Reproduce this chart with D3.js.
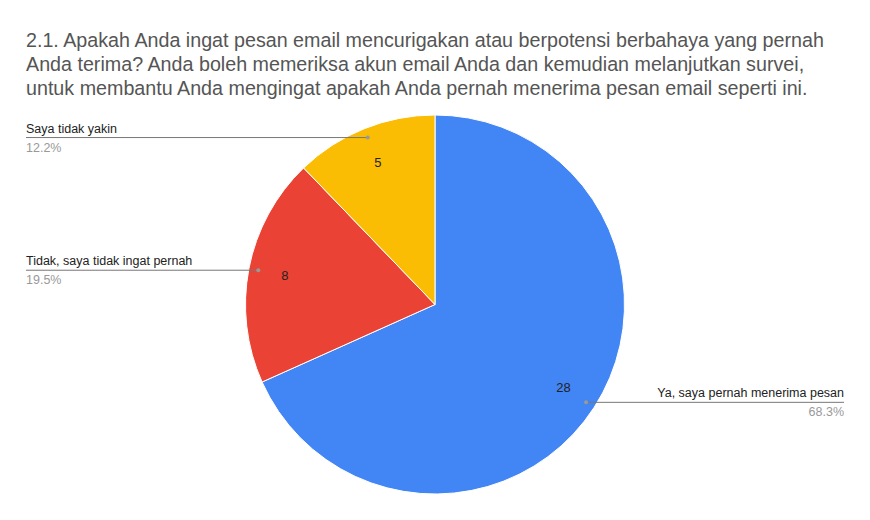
<!DOCTYPE html>
<html><head><meta charset="utf-8">
<script src="https://cdn.jsdelivr.net/npm/d3@7"></script>
<style>body{margin:0;background:#fff}svg{display:block}</style>
</head><body>
<svg id="chart" width="870" height="520"></svg>
<script>
const titleLines = [
  "2.1. Apakah Anda ingat pesan email mencurigakan atau berpotensi berbahaya yang pernah",
  "Anda terima? Anda boleh memeriksa akun email Anda dan kemudian melanjutkan survei,",
  "untuk membantu Anda mengingat apakah Anda pernah menerima pesan email seperti ini."
];
const categories = ["Ya, saya pernah menerima pesan", "Tidak, saya tidak ingat pernah", "Saya tidak yakin"];
const values = [28, 8, 5];
const colors = ["#4285F4", "#EA4335", "#FBBC04"];

const svg = d3.select("#chart");
const font = "'Liberation Sans', Arial, sans-serif";

svg.append("g").selectAll("text").data(titleLines).join("text")
  .attr("x", 26).attr("y", (d, i) => 47 + i * 24)
  .attr("font-family", font).attr("font-size", 19.7).attr("fill", "#555")
  .text(d => d);

const cx = 435, cy = 304.5, r = 189.5;
const total = d3.sum(values);
const data = categories.map((c, i) => ({ cat: c, value: values[i], color: colors[i] }));
const pie = d3.pie().sort(null).value(d => d.value);
const arcs = pie(data);
const arc = d3.arc().innerRadius(0).outerRadius(r);
const labelArc = d3.arc().innerRadius(153).outerRadius(153);
const dotArc = d3.arc().innerRadius(180).outerRadius(180);

const g = svg.append("g").attr("transform", `translate(${cx},${cy})`);
g.selectAll("path").data(arcs).join("path")
  .attr("d", arc).attr("fill", d => d.data.color)
  .attr("stroke", "#fff").attr("stroke-width", 1);

g.selectAll("text.val").data(arcs).join("text").attr("class", "val")
  .attr("transform", d => `translate(${labelArc.centroid(d)})`)
  .attr("text-anchor", "middle").attr("dy", "0.35em")
  .attr("font-family", font).attr("font-size", 13).attr("fill", "#222")
  .text(d => d.data.value);

// leader lines & external labels
const labelEndX = { left: 26, right: 844 };
arcs.forEach(d => {
  const [dx, dy] = dotArc.centroid(d);
  const px = cx + dx, py = cy + dy;
  const right = dx > 0;
  const ex = right ? labelEndX.right : labelEndX.left;
  svg.append("line").attr("x1", px).attr("y1", py).attr("x2", ex).attr("y2", py)
    .attr("stroke", "#777").attr("stroke-width", 1);
  svg.append("circle").attr("cx", px).attr("cy", py).attr("r", 2).attr("fill", "#999");
  const anchor = right ? "end" : "start";
  svg.append("text").attr("x", ex).attr("y", py - 5)
    .attr("text-anchor", anchor).attr("font-family", font).attr("font-size", 12.5).attr("fill", "#222")
    .text(d.data.cat);
  svg.append("text").attr("x", ex).attr("y", py + 14)
    .attr("text-anchor", anchor).attr("font-family", font).attr("font-size", 12.5).attr("fill", "#999")
    .text((d.data.value / total * 100).toFixed(1) + "%");
});
</script>
</body></html>
